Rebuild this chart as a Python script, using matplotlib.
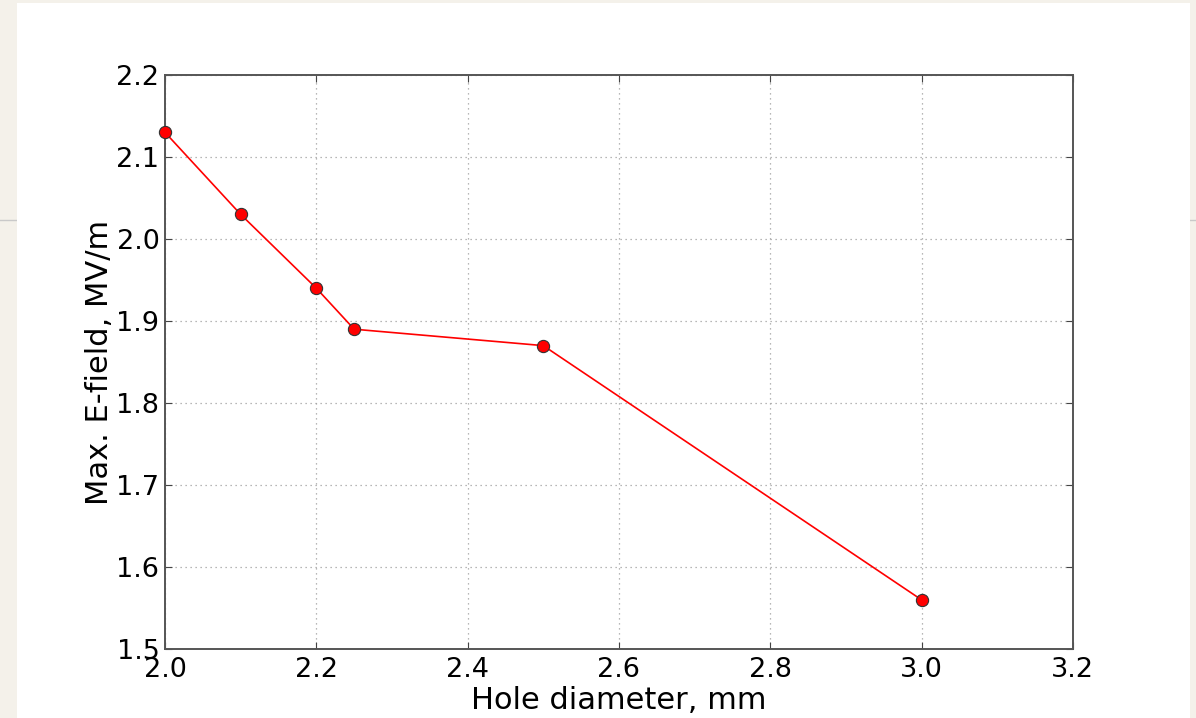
import matplotlib.pyplot as plt
from matplotlib.lines import Line2D
from matplotlib.patches import Rectangle

hole_diameter = [2.0, 2.1, 2.2, 2.25, 2.5, 3.0]
max_efield = [2.13, 2.03, 1.94, 1.89, 1.87, 1.56]
x_ticks = [2.0, 2.2, 2.4, 2.6, 2.8, 3.0, 3.2]
y_ticks = [1.5, 1.6, 1.7, 1.8, 1.9, 2.0, 2.1, 2.2]


def main():
    fig = plt.figure(figsize=(11.96, 7.18), dpi=100, facecolor='#f4f1ea')

    # slide rule line and white page behind the plot
    fig.add_artist(Line2D([0, 1], [0.6936, 0.6936], transform=fig.transFigure,
                          color='#c9c9c9', lw=1, zorder=0))
    fig.add_artist(Rectangle((17 / 1196, 0), (1190 - 17) / 1196, 1 - 3 / 718,
                             transform=fig.transFigure, facecolor='white',
                             edgecolor='none', zorder=1))

    ax = fig.add_axes([0.138, 0.0961, 0.759, 0.7994])
    ax.set_zorder(2)
    ax.plot(hole_diameter, max_efield, color='red', lw=1.2, marker='o',
            markersize=8.8, markerfacecolor='red', markeredgecolor='#333333',
            markeredgewidth=0.8, clip_on=False, zorder=3)

    ax.set_xlim(2.0, 3.2)
    ax.set_ylim(1.5, 2.2)
    ax.set_xticks(x_ticks)
    ax.set_yticks(y_ticks)
    ax.set_xticklabels([f'{t:.1f}' for t in x_ticks])
    ax.set_yticklabels([f'{t:.1f}' for t in y_ticks])
    ax.grid(True, linestyle=(0, (1, 3)), color='#a0a0a0', lw=0.9)
    ax.tick_params(direction='in', top=True, right=True, length=5,
                   color='#444444', labelsize=19.5)
    ax.tick_params(axis='x', pad=6)
    ax.tick_params(axis='y', pad=4)
    for spine in ax.spines.values():
        spine.set_color('#555555')
        spine.set_linewidth(1.4)

    ax.set_xlabel('Hole diameter, mm', fontsize=22, labelpad=2)
    ax.set_ylabel('Max. E-field, MV/m', fontsize=22, labelpad=2)

    fig.savefig('out.png', dpi=100, facecolor=fig.get_facecolor())


if __name__ == '__main__':
    main()
